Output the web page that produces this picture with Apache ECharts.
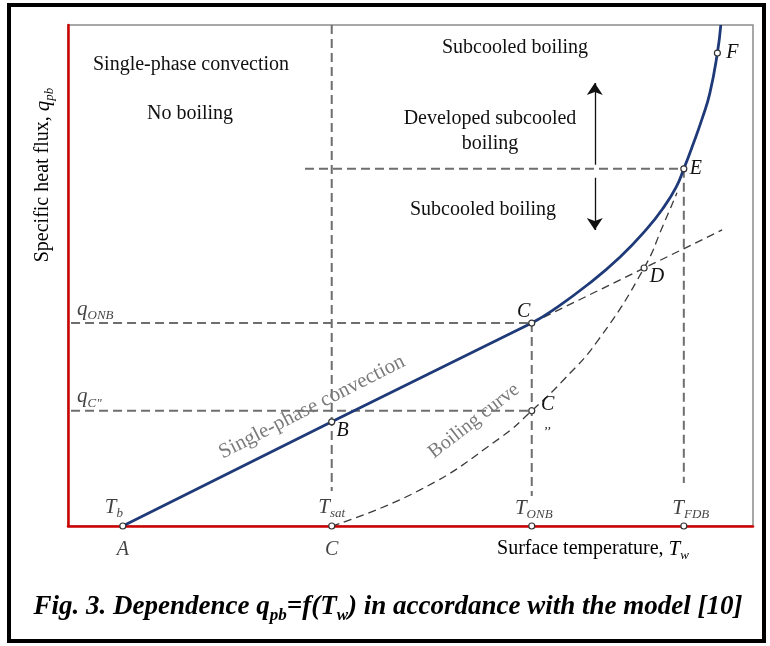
<!DOCTYPE html>
<html>
<head>
<meta charset="utf-8">
<script src="https://cdn.jsdelivr.net/npm/echarts@6/dist/echarts.min.js"></script>
<style>
html, body { margin: 0; padding: 0; background: #fff; }
#chart { width: 770px; height: 646px; }
</style>
</head>
<body>
<div id="chart"></div>
<script>
// scheme units: wall temperature 0..100 across, heat flux 0..100 up
var convX = [8.0, 38.5, 67.7];
var convY = [0, 20.8, 40.5];
var boilX = [67.7, 70.8, 75.8, 80.6, 84.5, 86.9, 88.8, 89.9, 91.2, 92.6, 93.7, 94.8, 95.3];
var boilY = [40.5, 43.1, 48.1, 53.7, 59.3, 63.5, 67.7, 71.3, 76.0, 81.4, 86.4, 94.4, 100];
var pureBoilX = [38.5, 51.4, 63.1, 67.7, 72.3, 77.4, 84.1, 86.9, 88.9];
var pureBoilY = [0, 7.2, 17.6, 23.0, 29.1, 37.1, 51.5, 60.1, 66.5];
var extX = [67.7, 95.5];
var extY = [40.5, 59.1];

var tickNames = ['b', 'sat', 'ONB', 'FDB'];
var tickValues = [8.0, 38.5, 67.7, 89.9];
var fluxNames = ['ONB', 'C"'];
var fluxValues = [40.5, 23.0];
var fluxE = 71.3;
var bottomNames = ['A', 'C'];
var bottomValues = [8.0, 38.5];

var pointNames = ['A', 'Tsat', 'B', 'C', 'C2', 'TONB', 'D', 'E', 'F', 'TFDB'];
var pointX = [8.0, 38.5, 38.5, 67.7, 67.7, 67.7, 84.1, 89.9, 94.8, 89.9];
var pointY = [0, 0, 20.8, 40.5, 23.0, 0, 51.5, 71.3, 94.4, 0];

var arrowX = 76.9;
var arrowUp = [72.1, 88.4];
var arrowDown = [69.5, 59.1];

var SERIF = '"Liberation Serif", "Times New Roman", serif';
var GUIDE = '#6e6e6e';

function zip(xs, ys) {
	var out = [];
	for (var i = 0; i < xs.length; i++) out.push([xs[i], ys[i]]);
	return out;
}

// dashed helper lines built from the named levels
var guides = [
	[[tickValues[1], 100], [tickValues[1], 7]],
	[[tickValues[2], fluxValues[0]], [tickValues[2], 6]],
	[[tickValues[3], fluxE], [tickValues[3], 8.6]],
	[[-1.6, fluxValues[0]], [tickValues[2], fluxValues[0]]],
	[[-1.6, fluxValues[1]], [tickValues[2], fluxValues[1]]],
	[[34.6, fluxE], [tickValues[3], fluxE]]
];

var series = [];
guides.forEach(function (seg) {
	series.push({
		type: 'line', data: seg, symbol: 'none', clip: false, silent: true, z: 2,
		lineStyle: { color: GUIDE, width: 2, type: [9, 5] }
	});
});

series.push({
	type: 'line', data: zip(extX, extY), symbol: 'none', silent: true, z: 2,
	lineStyle: { color: '#3a3a3a', width: 1.3, type: [8, 5] }
});
series.push({
	type: 'line', data: zip(pureBoilX, pureBoilY), symbol: 'none', smooth: 0.5, silent: true, z: 2,
	lineStyle: { color: '#3a3a3a', width: 1.3, type: [8, 5] }
});
series.push({
	type: 'line', data: zip(convX, convY), symbol: 'none', silent: true, z: 3,
	lineStyle: { color: '#1f3a78', width: 2.8 }
});
series.push({
	type: 'line', data: zip(boilX, boilY), symbol: 'none', smooth: 0.5, silent: true, z: 3,
	lineStyle: { color: '#1f3a78', width: 2.8 }
});

series.push({
	type: 'lines', coordinateSystem: 'cartesian2d', silent: true, z: 3,
	symbol: ['none', 'arrow'], symbolSize: 12,
	lineStyle: { color: '#111', width: 1.3, opacity: 1 },
	data: [
		{ coords: [[arrowX, arrowUp[0]], [arrowX, arrowUp[1]]] },
		{ coords: [[arrowX, arrowDown[0]], [arrowX, arrowDown[1]]] }
	]
});

var italic = { fontFamily: SERIF, fontStyle: 'italic', fontSize: 20, color: '#111' };
var subIt = { fontFamily: SERIF, fontStyle: 'italic', fontSize: 13, color: '#111', verticalAlign: 'bottom', lineHeight: 26 };
var mainIt = { fontFamily: SERIF, fontStyle: 'italic', fontSize: 21, color: '#111', verticalAlign: 'middle', lineHeight: 26 };

var pointLabel = {
	B: { text: '{i|B}', offset: [11, 9] },
	C: { text: '{i|C}', offset: [-8, -11] },
	C2: { text: '{i|C}\n{m|,,}', offset: [16, 4] },
	D: { text: '{i|D}', offset: [13, 9] },
	E: { text: '{i|E}', offset: [12, 0] },
	F: { text: '{i|F}', offset: [15, 0] }
};

series.push({
	type: 'scatter', silent: true, z: 5,
	symbol: 'circle', symbolSize: 6,
	itemStyle: { color: '#fff', borderColor: '#333', borderWidth: 1.2, opacity: 1 },
	data: pointNames.map(function (n, i) {
		var l = pointLabel[n];
		return {
			value: [pointX[i], pointY[i]],
			label: l ? {
				show: true, position: 'inside', offset: l.offset,
				formatter: l.text,
				rich: { i: italic, m: { fontFamily: SERIF, fontStyle: 'italic', fontSize: 13, color: '#111', lineHeight: 20 } }
			} : { show: false }
		};
	})
});

// invisible anchors that only carry text
var ghost = { color: 'transparent', borderWidth: 0 };

var tickOffset = [[-9, -19], [0, -19], [2, -18], [7, -18]];
series.push({
	type: 'scatter', silent: true, z: 6, symbol: 'circle', symbolSize: 1, itemStyle: ghost,
	data: tickNames.map(function (n, i) {
		return {
			value: [tickValues[i], 0],
			label: {
				show: true, position: 'inside', offset: tickOffset[i],
				formatter: '{t|T}{s|' + n + '}',
				rich: { t: mainIt, s: subIt }
			}
		};
	})
});

series.push({
	type: 'scatter', silent: true, z: 6, symbol: 'circle', symbolSize: 1, itemStyle: ghost,
	data: fluxNames.map(function (n, i) {
		return {
			value: [0, fluxValues[i]],
			label: {
				show: true, position: 'inside', align: 'left', offset: [9, -14],
				formatter: '{t|q}{s|' + n + '}',
				rich: { t: mainIt, s: subIt }
			}
		};
	})
});

series.push({
	type: 'scatter', silent: true, z: 6, symbol: 'circle', symbolSize: 1, itemStyle: ghost,
	data: bottomNames.map(function (n, i) {
		return {
			value: [bottomValues[i], 0],
			label: { show: true, position: 'inside', offset: [0, 24], formatter: n,
				fontFamily: SERIF, fontStyle: 'italic', fontSize: 20, color: '#111' }
		};
	})
});

var plain = { fontFamily: SERIF, fontSize: 20, fill: '#111', align: 'center', verticalAlign: 'middle' };
function txt(x, y, s, extra) {
	var st = Object.assign({}, plain, { text: s }, extra || {});
	return { type: 'text', x: x, y: y, silent: true, z: 10, style: st };
}

var myChart = echarts.init(document.getElementById('chart'), null, { renderer: 'canvas' });
var option = {
	animation: false,
	backgroundColor: '#fff',
	grid: { left: 68, top: 25, right: 17, bottom: 120, show: true, borderColor: '#8c8c8c', borderWidth: 1.5, backgroundColor: '#fff' },
	xAxis: {
		type: 'value', min: 0, max: 100,
		axisLine: { lineStyle: { color: '#cc0000', width: 2.5 } },
		axisTick: { show: false }, axisLabel: { show: false }, splitLine: { show: false }
	},
	yAxis: {
		type: 'value', min: 0, max: 100,
		axisLine: { show: true, lineStyle: { color: '#cc0000', width: 2.5 } },
		axisTick: { show: false }, axisLabel: { show: false }, splitLine: { show: false }
	},
	graphic: [
		{ type: 'rect', silent: true, z: 20, shape: { x: 9, y: 5, width: 755, height: 636 },
			style: { fill: 'none', stroke: '#000', lineWidth: 4 } },
		txt(191, 65, 'Single-phase convection'),
		txt(190, 114, 'No boiling'),
		txt(515, 48, 'Subcooled boiling'),
		txt(490, 131, 'Developed subcooled\nboiling', { lineHeight: 25 }),
		txt(483, 210, 'Subcooled boiling'),
		txt(312, 407, 'Single-phase convection', { fill: '#7a7a7a', fontSize: 21 }),
		txt(474, 421, 'Boiling curve', { fill: '#7a7a7a', fontSize: 20 }),
		{ type: 'text', x: 43, y: 175, rotation: Math.PI / 2, silent: true, z: 10,
			style: { text: '{n|Specific heat flux, }{t|q}{s|pb}', align: 'center', verticalAlign: 'middle',
				rich: { n: { fontFamily: SERIF, fontSize: 20, color: '#111', verticalAlign: 'middle', lineHeight: 26 },
					t: mainIt, s: subIt } } },
		{ type: 'text', x: 593, y: 549, silent: true, z: 10,
			style: { text: '{n|Surface temperature, }{t|T}{s|w}', align: 'center', verticalAlign: 'middle',
				rich: { n: { fontFamily: SERIF, fontSize: 20, color: '#111', verticalAlign: 'middle', lineHeight: 26 },
					t: mainIt, s: subIt } } },
		{ type: 'text', x: 388, y: 607, silent: true, z: 10,
			style: { text: '{b|Fig. 3. Dependence q}{s|pb}{b|=f(T}{s|w}{b|) in accordance with the model [10]}',
				align: 'center', verticalAlign: 'middle',
				rich: {
					b: { fontFamily: SERIF, fontStyle: 'italic', fontWeight: 'bold', fontSize: 27, color: '#000', verticalAlign: 'middle', lineHeight: 34 },
					s: { fontFamily: SERIF, fontStyle: 'italic', fontWeight: 'bold', fontSize: 17, color: '#000', verticalAlign: 'bottom', lineHeight: 34 }
				} } }
	],
	series: series
};
// rotate the two curve captions along their lines
option.graphic[6].rotation = 27 * Math.PI / 180;
option.graphic[7].rotation = 38 * Math.PI / 180;
myChart.setOption(option);
</script>
</body>
</html>
